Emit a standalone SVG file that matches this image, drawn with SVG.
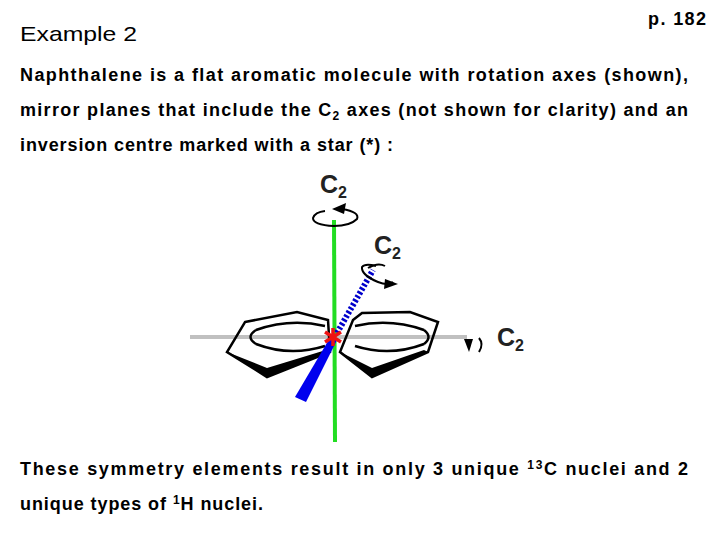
<svg xmlns="http://www.w3.org/2000/svg" width="720" height="540" viewBox="0 0 720 540">
<style>
.t{font-family:"Liberation Sans",Arial,sans-serif;font-weight:bold;font-size:18px;fill:#000}
.c{font-family:"Liberation Sans",Arial,sans-serif;font-weight:bold;font-size:25px;fill:#222}
.ring{fill:none;stroke:#000;stroke-width:2.5;stroke-linejoin:miter}
</style>
<rect width="720" height="540" fill="#fff"/>
<text x="20" y="41" font-family="Liberation Sans,Arial,sans-serif" font-size="21" textLength="117" lengthAdjust="spacingAndGlyphs">Example 2</text>
<text class="t" x="648" y="25" textLength="58">p. 182</text>
<text class="t" x="20" y="81" textLength="668" lengthAdjust="spacing">Naphthalene is a flat aromatic molecule with rotation axes (shown),</text>
<text class="t" x="20" y="116" textLength="668" lengthAdjust="spacing">mirror planes that include the C<tspan font-size="12" dy="4">2</tspan><tspan dy="-4"> axes (not shown for clarity) and an</tspan></text>
<text class="t" x="20" y="151" textLength="373" lengthAdjust="spacing">inversion centre marked with a star (*) :</text>
<text class="t" x="20" y="475" textLength="668" lengthAdjust="spacing">These symmetry elements result in only 3 unique <tspan font-size="12" dy="-6">13</tspan><tspan dy="6">C nuclei and 2</tspan></text>
<text class="t" x="20" y="510" textLength="243" lengthAdjust="spacing">unique types of <tspan font-size="12" dy="-6">1</tspan><tspan dy="6">H nuclei.</tspan></text>

<g id="axes">
<line x1="190" y1="337" x2="467" y2="337" stroke="#c0c0c0" stroke-width="4"/>
<line x1="334" y1="220" x2="335" y2="442" stroke="#22dd22" stroke-width="4"/>
</g>
<g id="left-ring">
<polygon class="ring" points="245,322 297,312 328,320 330,352 267,377 227,352"/>
<polygon points="227,352 267,377 330,352 326,350 267,368" fill="#000"/>
<path class="ring" d="M256,330 Q290,318 325,326 M256,344 Q290,357 325,346 M256,330 Q245,337 256,344" stroke-width="2"/>
</g>
<g id="right-ring">
<polygon class="ring" points="353,320 362,313 410,312 438,322 428,352 372,377 340,352"/>
<polygon points="340,352 372,377 428,352 424,350 372,368" fill="#000"/>
<path class="ring" d="M355,326 Q390,318 424,330 M355,346 Q390,357 424,344 M424,330 Q433,337 424,344" stroke-width="2"/>
</g>
<g id="wedge">
<polygon points="331,336 337,340 306,402 295,397" fill="#0000ee"/>
<line x1="337" y1="333" x2="373" y2="270" stroke="#0000cc" stroke-width="6" stroke-dasharray="2.5,2"/>
</g>
<g id="star">
<path d="M333,328 V346 M325,332 L341,342 M325,342 L341,332" stroke="#ee1111" stroke-width="3.5"/>
</g>
<g id="rotations">
<path d="M342,209 Q360,212 357,219 Q350,226 334,226 Q313,225 313,218 Q315,212 325,211" fill="none" stroke="#000" stroke-width="2"/>
<polygon points="332,209 346,203 344,214" fill="#000"/>
<path d="M376,266 Q365,263 362,267 Q361,275 378,282 Q388,286 393,282" fill="none" stroke="#000" stroke-width="2"/>
<polygon points="398,284 385,279 384,289" fill="#000"/>
<path d="M368,268 Q378,262 385,266" fill="none" stroke="#000" stroke-width="2"/>
<polygon points="464,339 473,339 469,352" fill="#000"/>
<path d="M479,338 Q484,344 479,352" fill="none" stroke="#000" stroke-width="2"/>
</g>
<g id="labels">
<text class="c" x="320" y="193">C<tspan font-size="16" dy="5">2</tspan></text>
<text class="c" x="374" y="254">C<tspan font-size="16" dy="5">2</tspan></text>
<text class="c" x="497" y="346">C<tspan font-size="16" dy="5">2</tspan></text>
</g>
</svg>
